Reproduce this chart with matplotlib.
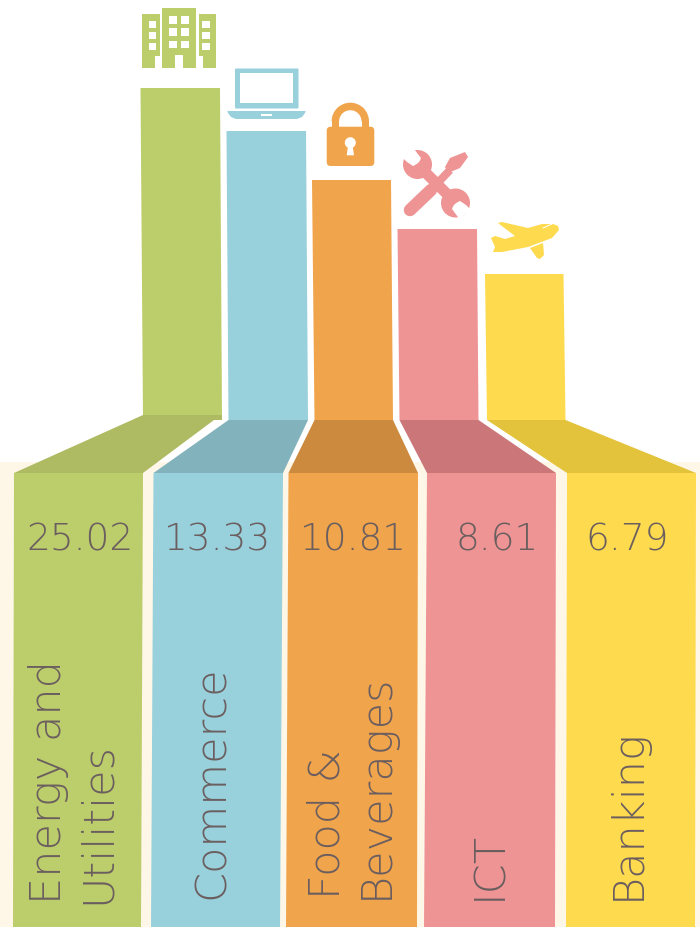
import matplotlib
matplotlib.use("Agg")
import matplotlib.pyplot as plt
from matplotlib.patches import Circle, FancyBboxPatch, Polygon, Rectangle, Wedge

categories = ["Energy and\nUtilities", "Commerce", "Food &\nBeverages", "ICT", "Banking"]
values = ["25.02", "13.33", "10.81", "8.61", "6.79"]
# bar heights as drawn, the picture is not to scale with the values
bar_heights = [327, 289, 240, 191, 146]

colors = ["#BCCD6B", "#98D0DC", "#F0A44C", "#EE9494", "#FEDA4E"]
dark_colors = ["#AFBB63", "#82B2BB", "#CC8A3E", "#CB7679", "#E4C33C"]
text_color = "#6B5E5F"
cream = "#FEF7E8"

# x edges of each piece: (left, right)
top_x = [(140.5, 220), (226.5, 306), (312, 391), (397.5, 477), (485, 563.5)]
neck_x = [(143, 222), (228.5, 308), (314.5, 393), (399.5, 478.5), (487, 565.5)]
fold_x = [(14, 143), (153.5, 283), (288.5, 418), (427, 556), (567, 696)]
foot_x = [(13, 141), (151, 280), (286, 417), (424, 555), (566, 695)]
neck_y = [415, 420, 420, 420, 420]
value_x = [80, 218, 353, 497, 627]
# label baselines, rotated text so x is the baseline and y the start
label_x = [(61, 110), (224,), (339, 388), (501,), (640,)]
label_y = [(903, 903), (898,), (898, 898), (899,), (899,)]

fig = plt.figure(figsize=(7, 9.28), dpi=100)
ax = fig.add_axes([0, 0, 1, 1])
ax.set_xlim(0, 700)
ax.set_ylim(927, -1)
ax.axis("off")

FONT = "DejaVu Sans"
WEIGHT = "light"

ax.add_patch(Rectangle((0, 462), 700, 467, color=cream, lw=0))

base = 420
for i in range(5):
    c = colors[i]
    top = neck_y[i] - bar_heights[i]
    ax.add_patch(Polygon([(top_x[i][0], top), (top_x[i][1], top), (neck_x[i][1], base), (neck_x[i][0], base)],
                         color=c, lw=0))
    ax.add_patch(Polygon([(fold_x[i][0], 473), (fold_x[i][1], 473), (foot_x[i][1], 929), (foot_x[i][0], 929)],
                         color=c, lw=0))
    if i == 0:
        trap = [(143, 415), (222, 415), (222, 420), (214, 420), (143, 473), (14, 473)]
    else:
        trap = [(neck_x[i][0], 420), (neck_x[i][1], 420), (fold_x[i][1], 473), (fold_x[i][0], 473)]
    ax.add_patch(Polygon(trap, color=dark_colors[i], lw=0))

    ax.text(value_x[i], 550, values[i], color=text_color, fontsize=27, family=FONT, weight=WEIGHT,
            ha="center", va="baseline")
    for line, lx, ly in zip(categories[i].split("\n"), label_x[i], label_y[i]):
        ax.text(lx, ly, line, color=text_color, fontsize=31, family=FONT, weight=WEIGHT,
                rotation=90, ha="left", va="baseline", rotation_mode="anchor")


def box(x0, y0, x1, y1, color):
    ax.add_patch(Rectangle((x0, y0), x1 - x0, y1 - y0, color=color, lw=0))


# building
g = colors[0]
ax.add_patch(Polygon([(142.3, 14), (159.5, 14), (159.5, 56), (155, 56), (155, 68), (142.3, 68)], color=g, lw=0))
ax.add_patch(Polygon([(216, 14), (199, 14), (199, 56), (203.3, 56), (203.3, 68), (216, 68)], color=g, lw=0))
box(162.3, 8.3, 196, 68, g)
box(175, 55, 183.3, 68, "white")
for y in [20.7, 32, 43.3]:
    box(148.7, y, 156, y + 7, "white")
    box(202.3, y, 209.7, y + 7, "white")
for y in [16, 28.3, 40.7]:
    box(169, y, 176.7, y + 7.6, "white")
    box(181.3, y, 189, y + 7.6, "white")

# laptop
b = colors[1]
ax.add_patch(FancyBboxPatch((235, 68.5), 63.5, 40, boxstyle="round,pad=0,rounding_size=1", color=b, lw=0))
box(240, 73.3, 293.3, 102.7, "white")
ax.add_patch(Polygon([(227.3, 111), (305.7, 111), (305, 113), (302, 117), (297, 119), (236, 119), (231, 117), (228, 113)],
                     color=b, lw=0))
box(260.7, 114, 272.3, 116.3, "white")

# lock
o = colors[2]
ax.add_patch(Wedge((350.3, 121.4), 18.7, 180, 360, width=7.5, color=o, lw=0))
box(331.6, 121, 339.1, 128, o)
box(361.5, 121, 369, 128, o)
ax.add_patch(FancyBboxPatch((329.2, 129.2), 42.6, 34.3, boxstyle="round,pad=2.5,rounding_size=4", color=o, lw=0))
ax.add_patch(Circle((350.3, 142.7), 5.5, color="white", lw=0))
ax.add_patch(Polygon([(348, 146), (352.6, 146), (354, 155.3), (346.7, 155.3)], color="white", lw=0))

# tools
p = colors[3]
px = 0.72  # points per pixel
ax.plot([417, 456], [164, 203], color=p, lw=11 * px, solid_capstyle="butt")
ax.add_patch(Circle((417.5, 164.5), 14.5, color=p, lw=0))
ax.add_patch(Circle((455.5, 203), 14.5, color=p, lw=0))
ax.add_patch(Polygon([(414, 149), (402, 157), (407, 162), (413, 166), (419, 163), (421, 158)], color="white", lw=0))
ax.add_patch(Polygon([(459, 218.5), (471, 210), (466, 205), (460, 201), (454, 204), (452, 209)], color="white", lw=0))
ax.plot([410, 431], [210, 190], color=p, lw=12.5 * px, solid_capstyle="round")
ax.plot([431, 450], [190, 170], color=p, lw=8 * px, solid_capstyle="butt")
ax.add_patch(Polygon([(450, 158), (465, 152), (468, 157), (460, 168), (448, 173), (445, 167)], color=p, lw=0))

# plane
y_ = colors[4]
ax.add_patch(Polygon([(558, 226), (559, 230), (552, 238), (528, 247), (502, 252), (493, 252), (495, 247), (491, 238),
                      (495, 236), (505, 239), (515, 236), (498, 223), (502, 222), (528, 228), (542, 224), (553, 224)],
                     color=y_, lw=0))
ax.add_patch(Polygon([(530, 248), (543, 243), (544, 255), (540, 259), (537, 258)], color=y_, lw=0))
ax.plot([543, 552], [228, 224], color="white", lw=1 * px)

fig.savefig("out.png", dpi=100)
